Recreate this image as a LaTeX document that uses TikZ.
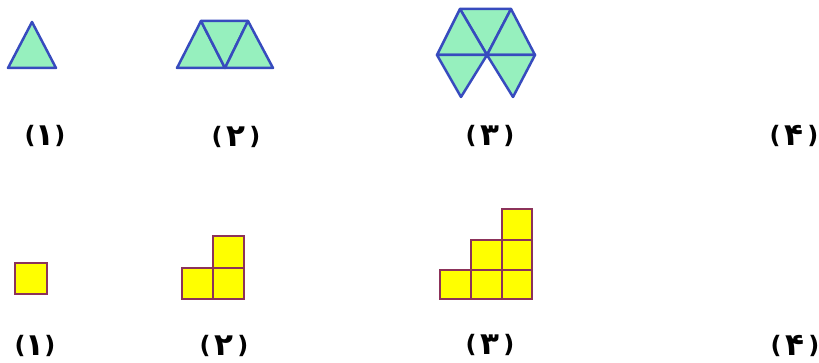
\documentclass[tikz,border=0pt]{standalone}
\usepackage{fontspec}
\newfontfamily\labfont{DejaVu Sans}
\definecolor{trifill}{RGB}{150,240,190}
\definecolor{triedge}{RGB}{55,75,190}
\definecolor{sqfill}{RGB}{255,255,0}
\definecolor{sqedge}{RGB}{140,50,90}
\newcommand{\dg}[1]{\raisebox{-1.5pt}{\fontsize{31}{34}\selectfont #1}}
\tikzset{
  tri/.style={fill=trifill,draw=triedge,line width=2.5pt,line join=round},
  sq/.style={fill=sqfill,draw=sqedge,line width=2.4pt,line join=miter},
  lab/.style={font=\labfont\bfseries\fontsize{24}{28}\selectfont,inner sep=0pt,anchor=center}
}
\begin{document}
\begin{tikzpicture}[x=1pt,y=-1pt]
\useasboundingbox (0,0) rectangle (819,363);
% figure 1 triangles
\draw[tri] (8,68) -- (56,68) -- (32,22) -- cycle;
% figure 2
\draw[tri] (177,68) -- (225,68) -- (201,21) -- cycle;
\draw[tri] (201,21) -- (248,21) -- (225,68) -- cycle;
\draw[tri] (225,68) -- (273,68) -- (248,21) -- cycle;
% figure 3
\coordinate (TL) at (460,9);
\coordinate (TR) at (511,9);
\coordinate (L) at (437,55);
\coordinate (C) at (487,55);
\coordinate (R) at (535,55);
\coordinate (BL) at (461,97);
\coordinate (BR) at (513,97);
\draw[tri] (TL) -- (TR) -- (C) -- cycle;
\draw[tri] (TL) -- (L) -- (C) -- cycle;
\draw[tri] (TR) -- (R) -- (C) -- cycle;
\draw[tri] (L) -- (C) -- (BL) -- cycle;
\draw[tri] (C) -- (R) -- (BR) -- cycle;
% labels row 1
\node[lab] (t1) at (45,136) {(\dg{۱})};
\node[lab] (t2) at (236,137) {(\,\dg{۲}\,)};
\node[lab] (t3) at (490,136) {(\,\dg{۳}\,)};
\node[lab] (t4) at (794,136) {(\,\dg{۴}\,)};
% squares figure 1
\draw[sq] (15,263) rectangle (47,294);
% figure 2
\draw[sq] (182,268) rectangle (213,299);
\draw[sq] (213,268) rectangle (244,299);
\draw[sq] (213,236) rectangle (244,268);
% figure 3
\draw[sq] (440,270) rectangle (471,299);
\draw[sq] (471,270) rectangle (502,299);
\draw[sq] (502,270) rectangle (532,299);
\draw[sq] (471,240) rectangle (502,270);
\draw[sq] (502,240) rectangle (532,270);
\draw[sq] (502,209) rectangle (532,240);
% labels row 2
\node[lab] (s1) at (35,346) {(\dg{۱})};
\node[lab] (s2) at (224,346) {(\,\dg{۲}\,)};
\node[lab] (s3) at (490,345) {(\,\dg{۳}\,)};
\node[lab] (s4) at (795,346) {(\,\dg{۴}\,)};
\end{tikzpicture}
\end{document}
